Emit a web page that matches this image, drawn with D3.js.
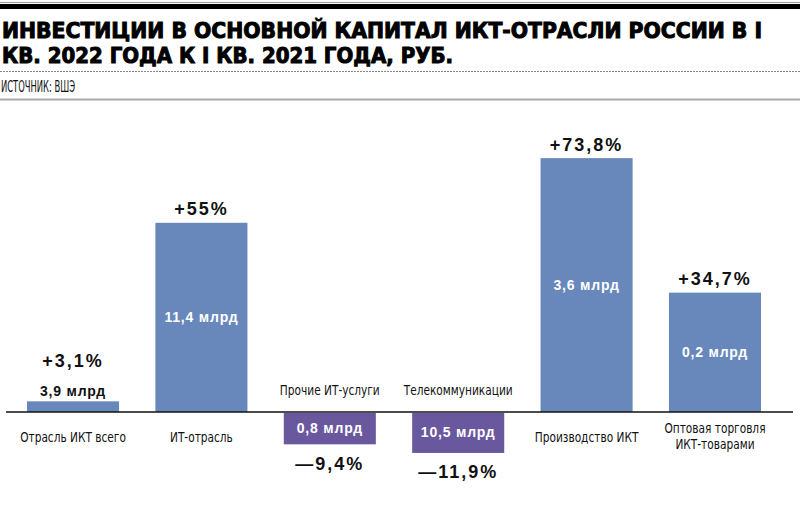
<!DOCTYPE html>
<html><head><meta charset="utf-8">
<script src="https://cdn.jsdelivr.net/npm/d3@7"></script>
<style>
html,body{margin:0;padding:0;background:#fff;}
svg{display:block;}
</style></head>
<body>
<svg id="c" width="802" height="520"></svg>
<script>
const categories = ["Отрасль ИКТ всего", "ИТ-отрасль", "Прочие ИТ-услуги", "Телекоммуникации", "Производство ИКТ", "Оптовая торговля|ИКТ-товарами"];
const changePct = [3.1, 55, -9.4, -11.9, 73.8, 34.7];
const changeLabels = ["+3,1%", "+55%", "—9,4%", "—11,9%", "+73,8%", "+34,7%"];
const amountLabels = ["3,9 млрд", "11,4 млрд", "0,8 млрд", "10,5 млрд", "3,6 млрд", "0,2 млрд"];
const titleLines = ["ИНВЕСТИЦИИ В ОСНОВНОЙ КАПИТАЛ ИКТ-ОТРАСЛИ РОССИИ В I", "КВ. 2022 ГОДА К I КВ. 2021 ГОДА, РУБ."];
const sourceText = "ИСТОЧНИК: ВШЭ";

const svg = d3.select("#c");
const BLUE = "#6888bc", PURPLE = "#6a589f";
const condFont = "'DejaVu Sans Condensed', 'DejaVu Sans', sans-serif";

// header
svg.append("line").attr("x1",0).attr("x2",800).attr("y1",2.5).attr("y2",2.5).attr("stroke","#999").attr("stroke-width",1);
svg.append("rect").attr("x",0).attr("y",4).attr("width",800).attr("height",5).attr("fill","#000");
const titleLens = [760, 451];
titleLines.forEach((t,i)=>{
  svg.append("text").attr("x",2).attr("y",38 + i*25)
    .attr("font-family",condFont).attr("font-weight","bold").attr("font-size",21)
    .attr("textLength",titleLens[i]).attr("lengthAdjust","spacingAndGlyphs")
    .attr("fill","#000").attr("stroke","#000").attr("stroke-width",0.9).text(t);
});
svg.append("line").attr("x1",0).attr("x2",800).attr("y1",71.5).attr("y2",71.5)
  .attr("stroke","#888").attr("stroke-width",1).attr("stroke-dasharray","2,1");
svg.append("text").attr("x",1).attr("y",92)
  .attr("font-family",condFont).attr("font-size",16)
  .attr("textLength",74).attr("lengthAdjust","spacingAndGlyphs")
  .attr("fill","#111").text(sourceText);
svg.append("line").attr("x1",0).attr("x2",800).attr("y1",99.5).attr("y2",99.5).attr("stroke","#aaa").attr("stroke-width",2);

// scales
const x = d3.scaleBand().domain(categories).range([27, 761]).paddingInner(0.283).paddingOuter(0);
const y = d3.scaleLinear().domain([-20, 80]).range([412 + 20*3.44, 412 - 80*3.44]);
const y0 = y(0);

const g = svg.append("g");
const data = categories.map((c,i)=>({c, v: changePct[i], pl: changeLabels[i], al: amountLabels[i], i}));

g.selectAll("rect.bar").data(data).join("rect").attr("class","bar")
  .attr("x", d=>x(d.c)).attr("width", x.bandwidth())
  .attr("y", d=> d.v>=0 ? y(d.v) : y0+1)
  .attr("height", d=> d.v>=0 ? y0 - y(d.v) : y(d.v) - y0 - 1)
  .attr("fill", d=> d.v>=0 ? BLUE : PURPLE);

// baseline
g.append("line").attr("x1",6).attr("x2",793).attr("y1",y0).attr("y2",y0).attr("stroke","#111").attr("stroke-width",1.6);

const cx = d=> x(d.c) + x.bandwidth()/2;
const numFont = "'Liberation Sans', Arial, sans-serif";

// amount labels
g.selectAll("text.amt").data(data).join("text").attr("class","amt")
  .attr("x", cx)
  .attr("y", d=>{
    const h = Math.abs(y(d.v) - y0);
    if (h < 30) return y(d.v) - 5;
    const top = d.v>=0 ? y(d.v) : y0;
    const bot = d.v>=0 ? y0 : y(d.v);
    return (top+bot)/2 + 5;
  })
  .attr("text-anchor","middle").attr("font-family",numFont).attr("font-weight","bold")
  .attr("font-size",14).attr("letter-spacing",0.8)
  .attr("fill", d=> Math.abs(y(d.v)-y0) < 30 ? "#111" : "#fff")
  .text(d=>d.al);

// percent labels
g.selectAll("text.pct").data(data).join("text").attr("class","pct")
  .attr("x", cx)
  .attr("y", d=>{
    const h = Math.abs(y(d.v) - y0);
    if (d.v >= 0) return h < 30 ? y(d.v) - 34 : y(d.v) - 7.5;
    return y(d.v) + 25.5;
  })
  .attr("text-anchor","middle").attr("font-family",numFont).attr("font-weight","bold")
  .attr("font-size",18).attr("letter-spacing",2)
  .attr("fill","#111").text(d=>d.pl);

// category labels
data.forEach(d=>{
  const lines = d.c.split("|");
  lines.forEach((ln,k)=>{
    let yy;
    if (d.v >= 0) yy = lines.length > 1 ? y0 + 21 + k*16 : y0 + 30;
    else yy = y0 - 17;
    const t = g.append("text").attr("x", cx(d)).attr("y", yy)
      .attr("text-anchor","middle").attr("font-family",condFont).attr("font-size",14)
      .attr("fill","#111").text(ln);
    const w = t.node().getComputedTextLength();
    t.attr("textLength", w*0.84).attr("lengthAdjust","spacingAndGlyphs");
  });
});
</script>
</body></html>
